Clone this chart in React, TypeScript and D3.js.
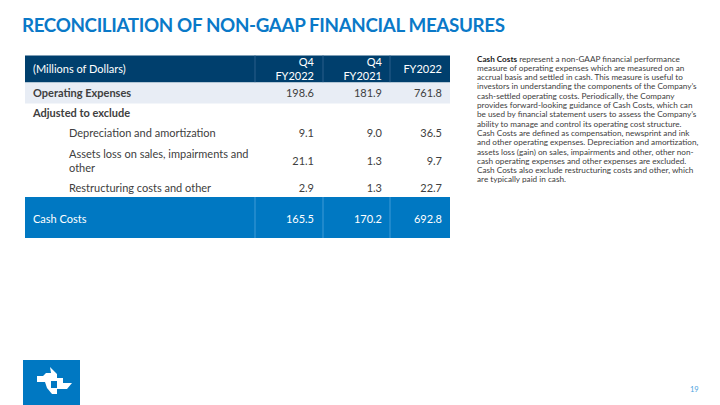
import React from "react";
import * as d3 from "d3";

const title = "RECONCILIATION OF NON-GAAP FINANCIAL MEASURES";
const unitLabel = "(Millions of Dollars)";
const columnHeaders: string[][] = [["Q4", "FY2022"], ["Q4", "FY2021"], ["FY2022"]];
const rowLabels: string[][] = [
  ["Operating Expenses"],
  ["Adjusted to exclude"],
  ["Depreciation and amortization"],
  ["Assets loss on sales, impairments and", "other"],
  ["Restructuring costs and other"],
];
const rowBold = [true, true, false, false, false];
const rowIndent = [false, false, true, true, true];
const q4FY2022: (number | null)[] = [198.6, null, 9.1, 21.1, 2.9];
const q4FY2021: (number | null)[] = [181.9, null, 9.0, 1.3, 1.3];
const fy2022: (number | null)[] = [761.8, null, 36.5, 9.7, 22.7];
const totalLabel = "Cash Costs";
const cashCosts = [165.5, 170.2, 692.8];
const noteLines = [
  "represent a non-GAAP financial performance",
  "measure of operating expenses which are measured on an",
  "accrual basis and settled in cash. This measure is useful to",
  "investors in understanding the components of the Company\u2019s",
  "cash-settled operating costs. Periodically, the Company",
  "provides forward-looking guidance of Cash Costs, which can",
  "be used by financial statement users to assess the Company\u2019s",
  "ability to manage and control its operating cost structure.",
  "Cash Costs are defined as compensation, newsprint and ink",
  "and other operating expenses. Depreciation and amortization,",
  "assets loss (gain) on sales, impairments and other, other non-",
  "cash operating expenses and other expenses are excluded.",
  "Cash Costs also exclude restructuring costs and other, which",
  "are typically paid in cash.",
];
const pageNumber = "19";

const FONT = "Lato, 'Open Sans', sans-serif";
const fmt = d3.format(".1f");

export default function App() {
  const columns = [q4FY2022, q4FY2021, fy2022];
  const colEdges = [25, 255, 323, 390, 450];
  const x = d3.scaleOrdinal<number, number>().domain([0, 1, 2]).range([314, 382, 442]);
  const rowY = d3.scaleOrdinal<number, number>().domain([0, 1, 2, 3, 4]).range([92.5, 113, 133, 160.5, 188]);
  const textColor = "#404040";

  return (
    <svg width={720} height={405} style={{ position: "absolute", left: 0, top: 0, background: "#fff" }} fontFamily={FONT}>
      <rect x={0} y={0} width={720} height={405} fill="#fff" />
      <text x={22} y={31.5} fontSize={18.8} fontWeight={700} fill="#0a79c8" textLength={483} lengthAdjust="spacing">
        {title}
      </text>

      <rect x={colEdges[0]} y={55.5} width={colEdges[4] - colEdges[0]} height={27} fill="#003f6d" />
      {colEdges.slice(1, 4).map((e, i) => (
        <line key={i} x1={e} x2={e} y1={55.5} y2={82.5} stroke="#2a5f8a" strokeWidth={1} />
      ))}
      <text x={33} y={72.5} fontSize={11} fill="#fff">{unitLabel}</text>
      {columnHeaders.map((h, i) =>
        h.length === 2 ? (
          <g key={i}>
            <text x={x(i)} y={66} fontSize={11} fill="#fff" textAnchor="end">{h[0]}</text>
            <text x={x(i)} y={80} fontSize={11} fill="#fff" textAnchor="end">{h[1]}</text>
          </g>
        ) : (
          <text key={i} x={x(i)} y={73} fontSize={11} fill="#fff" textAnchor="end">{h[0]}</text>
        )
      )}

      <rect x={colEdges[0]} y={82.5} width={colEdges[4] - colEdges[0]} height={21} fill="#e8edf5" />

      {rowLabels.map((lab, r) => {
        const cy = rowY(r);
        const lx = rowIndent[r] ? 69 : 33;
        return (
          <g key={r}>
            {lab.length === 1 ? (
              <text x={lx} y={cy + 4} fontSize={11} fill={textColor} fontWeight={rowBold[r] ? 700 : 400}>{lab[0]}</text>
            ) : (
              <g>
                <text x={lx} y={154 + 4} fontSize={11} fill={textColor}>{lab[0]}</text>
                <text x={lx} y={167.5 + 4} fontSize={11} fill={textColor}>{lab[1]}</text>
              </g>
            )}
            {columns.map((col, c) =>
              col[r] == null ? null : (
                <text key={c} x={x(c)} y={cy + 4} fontSize={11} fill={textColor} textAnchor="end">{fmt(col[r] as number)}</text>
              )
            )}
          </g>
        );
      })}

      <rect x={colEdges[0]} y={197} width={colEdges[4] - colEdges[0]} height={41} fill="#0078c2" />
      {colEdges.slice(1, 4).map((e, i) => (
        <line key={i} x1={e} x2={e} y1={197} y2={238} stroke="#3f9ad6" strokeWidth={1} />
      ))}
      <text x={33} y={223} fontSize={11} fill="#fff">{totalLabel}</text>
      {cashCosts.map((v, c) => (
        <text key={c} x={x(c)} y={223} fontSize={11} fill="#fff" textAnchor="end">{fmt(v)}</text>
      ))}

      <g fontSize={8.2} fill="#404040">
        {noteLines.map((l, i) =>
          i === 0 ? (
            <text key={i} x={477} y={61.5}>
              <tspan fontWeight={700} fill="#222">Cash Costs</tspan>
              <tspan> {l}</tspan>
            </text>
          ) : (
            <text key={i} x={477} y={61.5 + i * 9.3}>{l}</text>
          )
        )}
      </g>

      <rect x={23} y={360} width={57} height={45} fill="#0078c2" />
      <g fill="#fff">
        <polygon points="37,376 43,376 46,373 51,373 51,382 37,382" />
        <polygon points="50,367 57,374 57,381 51,381 51,373" />
        <polygon points="57,378 63,378 63,383 72,383 67,389 57,389" />
        <polygon points="45,382 51,382 51,388 47,388" />
        <polygon points="47,388 57,388 57,394 52,394" />
      </g>

      <text x={690} y={392} fontSize={7.5} fill="#4da3e0">{pageNumber}</text>
    </svg>
  );
}
